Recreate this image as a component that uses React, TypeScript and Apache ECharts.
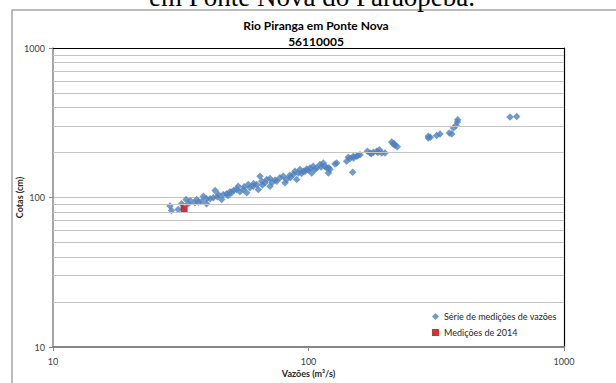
import React, { useEffect, useRef } from "react";
import * as echarts from "echarts";

const pageHeading = "em Ponte Nova do Paraopeba.";
const chartTitle = "Rio Piranga em Ponte Nova";
const chartSubtitle = "56110005";
const xAxisTitle = "Vazões (m³/s)";
const yAxisTitle = "Cotas (cm)";
const seriesName = "Série de medições de vazões";
const series2014Name = "Medições de 2014";

// Série de medições de vazões: discharge (m³/s) and stage (cm)
const flowQ = [
  28.7, 29.1, 30.9, 31.9, 33.2, 33.9, 34.5, 35.9, 36.5, 37.1, 38.2, 38.8, 39.9, 39.9, 41.2,
  43.1, 42.4, 44.0, 44.4, 45.7, 46.4, 47.8, 48.5, 49.3, 50.0, 51.0,
  52.3, 53.1, 53.9, 55.6, 56.0, 57.3, 58.1, 59.0, 60.8, 61.0, 62.7, 64.6, 63.6, 65.6, 66.0,
  67.6, 68.6, 70.7, 70.7, 72.0, 74.0,
  75.1, 77.3, 79.7, 80.9, 82.1, 84.6, 85.0, 87.2, 88.5, 89.9, 91.2, 92.6, 94.0, 95.4, 97.0,
  98.4, 100.0, 101.4, 102.9, 104.4, 106.0, 107.6, 110.9, 112.0, 114.3, 116.0, 117.8, 119.6,
  120.0, 121.4,
  127.0, 128.9,
  141.1, 143.2, 145.4, 148.9, 149.8, 150.0, 154.3, 156.0, 159.1,
  169.9, 174.1, 176.0, 179.4, 184.9, 187.0, 189.4, 193.4, 199.3,
  211.6, 214.8, 216.0, 218.1, 222.7,
  294.4, 294.4, 300.0, 317.4, 327.1,
  355.8, 363.4, 368.9, 377.9, 382.5, 383.6,
  614.8, 652.8,
];
const stageH = [
  87.6, 81.9, 83.2, 90.7, 97.0, 90.7, 95.0, 92.1, 97.0, 93.1, 94.5, 102.1, 98.0, 90.7, 98.0,
  111.3, 99.5, 101.0, 104.7, 97.0, 104.7, 105.8, 103.0, 109.1, 107.4, 112.0,
  113.1, 119.0, 109.1, 113.1, 118.0, 107.4, 122.1, 116.0, 119.0, 124.0, 122.1, 138.8, 113.1, 128.5, 121.0,
  125.3, 131.8, 133.9, 119.0, 126.0, 131.0,
  128.5, 135.3, 138.8, 125.3, 131.8, 140.9, 136.0, 142.4, 149.8, 131.8, 146.0, 153.7, 145.0, 149.8, 150.0,
  155.3, 152.0, 157.7, 146.0, 161.8, 154.0, 157.7, 166.0, 160.0, 170.2, 161.8, 157.7, 146.0,
  158.0, 153.7,
  167.6, 170.2,
  174.7, 185.7, 182.0, 147.5, 188.6, 184.0, 188.6, 191.0, 193.5,
  203.7, 198.6, 196.0, 200.6, 203.7, 200.0, 208.9, 198.6, 198.6,
  235.0, 228.0, 230.0, 223.4, 218.8,
  256.4, 249.9, 253.0, 260.3, 265.7,
  269.9, 265.7, 291.3, 303.5, 319.5, 331.1,
  344.9, 348.5,
];

// Medições de 2014
const flow2014 = [32.6];
const stage2014 = [84.0];

// axis ticks and horizontal minor gridlines
const axisTicks = [10, 100, 1000];
const minorGridValues = [20, 30, 40, 50, 60, 70, 80, 90, 200, 300, 400, 500, 600, 700, 800, 900];

const FONT = "Lato, 'Open Sans', sans-serif";

export default function App() {
  const ref = useRef<HTMLDivElement>(null);

  useEffect(() => {
    if (!ref.current) return;
    const chart = echarts.init(ref.current, undefined, { renderer: "svg" });
    const axisMin = axisTicks[0];
    const axisMax = axisTicks[axisTicks.length - 1];
    const plainLabel = (v: number) => String(Math.round(v));

    const option = {
      animation: false,
      backgroundColor: "#ffffff",
      textStyle: { fontFamily: FONT },
      title: {
        text: chartTitle + "\n" + chartSubtitle,
        left: 311,
        top: 12,
        textAlign: "center",
        textStyle: {
          fontFamily: FONT,
          fontSize: 12,
          fontWeight: "bold",
          color: "#000000",
          lineHeight: 16.5,
        },
      },
      graphic: [
        {
          type: "rect",
          z: -10,
          shape: { x: 12, y: 10, width: 700, height: 500 },
          style: { fill: "none", stroke: "#a6a6a6", lineWidth: 1.5 },
          silent: true,
        },
        {
          type: "text",
          x: 312,
          y: -3,
          style: {
            text: pageHeading,
            font: "27px 'Liberation Serif', 'Times New Roman', serif",
            fill: "#000000",
            textAlign: "center",
            textVerticalAlign: "middle",
          },
          silent: true,
        },
      ],
      legend: {
        orient: "vertical",
        left: 427,
        top: 307,
        itemWidth: 7,
        itemHeight: 7,
        itemGap: 7,
        textStyle: { fontFamily: FONT, fontSize: 9, color: "#262626" },
        data: [
          { name: seriesName, icon: "diamond" },
          { name: series2014Name, icon: "rect" },
        ],
      },
      grid: { left: 53, top: 48, width: 511, height: 300, containLabel: false },
      xAxis: [
        {
          type: "log",
          logBase: 10,
          min: axisMin,
          max: axisMax,
          position: "bottom",
          name: xAxisTitle,
          nameLocation: "middle",
          nameGap: 22,
          nameMoveOverlap: false,
          nameTextStyle: { fontFamily: FONT, fontSize: 9, fontWeight: "bold", color: "#262626" },
          axisLine: { show: true, lineStyle: { color: "#868686", width: 2 } },
          axisTick: { show: true, length: 4, lineStyle: { color: "#868686" } },
          axisLabel: { fontFamily: FONT, fontSize: 9, color: "#404040", margin: 10, formatter: plainLabel },
          splitLine: { show: false },
        },
        {
          type: "log",
          logBase: 10,
          min: axisMin,
          max: axisMax,
          position: "top",
          axisLine: { show: true, lineStyle: { color: "#000000", width: 1.2 } },
          axisTick: { show: false },
          axisLabel: { show: false },
          splitLine: { show: false },
        },
      ],
      yAxis: [
        {
          type: "log",
          logBase: 10,
          min: axisMin,
          max: axisMax,
          position: "left",
          name: yAxisTitle,
          nameLocation: "middle",
          nameGap: 29,
          nameMoveOverlap: false,
          nameRotate: 90,
          nameTextStyle: { fontFamily: FONT, fontSize: 9, fontWeight: "bold", color: "#262626" },
          axisLine: { show: true, lineStyle: { color: "#868686", width: 1.5 } },
          axisTick: { show: true, length: 4, lineStyle: { color: "#868686" } },
          axisLabel: { fontFamily: FONT, fontSize: 9, color: "#404040", margin: 8, formatter: plainLabel },
          splitLine: { show: true, lineStyle: { color: "#c4c4c4", width: 1 } },
        },
        {
          type: "log",
          logBase: 10,
          min: axisMin,
          max: axisMax,
          position: "right",
          axisLine: { show: true, lineStyle: { color: "#000000", width: 1.2 } },
          axisTick: { show: false },
          axisLabel: { show: false },
          splitLine: { show: false },
        },
      ],
      series: [
        {
          name: "grid-minor",
          type: "scatter",
          data: [],
          z: 1,
          silent: true,
          markLine: {
            silent: true,
            symbol: ["none", "none"],
            label: { show: false },
            lineStyle: { color: "#c4c4c4", type: "solid", width: 1 },
            data: minorGridValues.map((v) => ({ yAxis: v })),
          },
        },
        {
          name: seriesName,
          type: "scatter",
          symbol: "diamond",
          symbolSize: 7.5,
          z: 3,
          itemStyle: { color: "#4F81BD" },
          data: flowQ.map((q, i) => [q, stageH[i]]),
        },
        {
          name: series2014Name,
          type: "scatter",
          symbol: "rect",
          symbolSize: 7,
          z: 4,
          itemStyle: { color: "#C00000" },
          data: flow2014.map((q, i) => [q, stage2014[i]]),
        },
      ],
    };

    chart.setOption(option as any);
    return () => chart.dispose();
  }, []);

  return (
    <div
      ref={ref}
      style={{ position: "absolute", left: 0, top: 0, width: 616, height: 383, background: "#fff" }}
    />
  );
}
